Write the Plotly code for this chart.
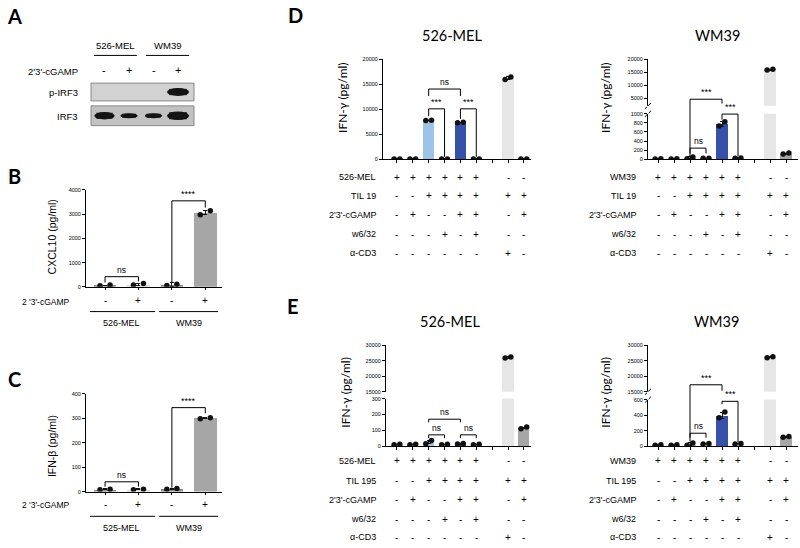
import plotly.graph_objects as go

W, H = 800, 548

# ======================= DATA =======================
# Panel A - western blot, relative band intensity per lane (0 = no band)
A_groups = ["526-MEL", "WM39"]
A_cgamp = ["-", "+", "-", "+"]
A_rows = ["p-IRF3", "IRF3"]
A_pIRF3 = [0.0, 0.0, 0.0, 1.0]
A_IRF3 = [0.8, 0.45, 0.45, 1.0]

# Panel B - CXCL10 (pg/ml)
B_cgamp = ["-", "+", "-", "+"]
B_groups = ["526-MEL", "WM39"]
B_mean = [60, 100, 100, 3060]
B_sem = [15, 30, 70, 90]
B_rep1 = [50, 80, 60, 2980]
B_rep2 = [75, 140, 110, 3140]

# Panel C - IFN-beta (pg/ml)
C_cgamp = ["-", "+", "-", "+"]
C_groups = ["525-MEL", "WM39"]
C_mean = [9, 9, 11, 300]
C_sem = [2, 2, 3, 3]
C_rep1 = [8, 8, 10, 298]
C_rep2 = [10, 10, 13, 302]

# Panels D/E - condition table (slot 7 is an empty column)
row_mel = ["+", "+", "+", "+", "+", "+", "", "-", "-"]
row_til = ["-", "-", "+", "+", "+", "+", "", "+", "+"]
row_cgamp = ["-", "+", "-", "-", "+", "+", "", "-", "+"]
row_w632 = ["-", "-", "-", "+", "-", "+", "", "-", "-"]
row_cd3 = ["-", "-", "-", "-", "-", "-", "", "+", "-"]

# D - IFN-gamma (pg/ml), TIL 19
D_mel_mean = [50, 50, 7800, 50, 7350, 50, None, 16200, 50]
D_mel_sem = [10, 10, 50, 10, 70, 10, None, 300, 10]
D_mel_rep1 = [40, 40, 7780, 40, 7300, 40, None, 15950, 40]
D_mel_rep2 = [60, 60, 7830, 60, 7420, 60, None, 16450, 60]

D_wm_mean = [10, 10, 30, 22, 775, 25, None, 16000, 125]
D_wm_sem = [2, 2, 20, 3, 50, 4, None, 200, 10]
D_wm_rep1 = [8, 8, 10, 20, 730, 22, None, 15850, 115]
D_wm_rep2 = [12, 12, 50, 24, 825, 28, None, 16200, 135]

# E - IFN-gamma (pg/ml), TIL 195
E_mel_mean = [10, 10, 25, 10, 15, 10, None, 26000, 115]
E_mel_sem = [2, 2, 10, 2, 2, 2, None, 200, 5]
E_mel_rep1 = [8, 8, 15, 8, 13, 8, None, 25850, 110]
E_mel_rep2 = [12, 12, 35, 12, 17, 12, None, 26200, 120]

E_wm_mean = [15, 15, 25, 30, 400, 30, None, 26100, 120]
E_wm_sem = [3, 3, 15, 3, 40, 3, None, 200, 6]
E_wm_rep1 = [12, 12, 10, 28, 365, 28, None, 25950, 115]
E_wm_rep2 = [18, 18, 40, 32, 440, 32, None, 26300, 125]

slots = list(range(9))
bar4 = list(range(4))

# ======================= STYLE =======================
ARIAL = "Liberation Sans, Arial, sans-serif"
CAL = "Lato, Carlito, Calibri, sans-serif"
LB = "#9dc3e6"
DB = "#3551a8"
LG = "#e6e6e6"
MG = "#a6a6a6"
SM = "#bdbdbd"
slot_colors = [SM, SM, LB, SM, DB, SM, "rgba(0,0,0,0)", LG, MG]
BC_colors = ["#8c8c8c", "#dcdcdc", "#8c8c8c", MG]


def px(x):
    return x / W


def py(y):
    return 1 - y / H


fig = go.Figure()
AX = {}


def yax(name, ypix_bottom, ypix_top, rng, tickvals, anchor):
    dom = [py(ypix_bottom), py(ypix_top)]
    AX[name] = (dom, rng)
    return dict(domain=dom, range=rng, tickvals=tickvals, tickformat="d",
                anchor=anchor, showline=True, linecolor="black", linewidth=1,
                ticks="outside", ticklen=3, tickwidth=1, tickcolor="black",
                tickfont=dict(size=5.5, family=ARIAL, color="black"),
                showgrid=False, zeroline=False, fixedrange=True)


def xax(xpix_left, xpix_right, rng, anchor, tickvals, ticklen=3):
    return dict(domain=[px(xpix_left), px(xpix_right)], range=rng, anchor=anchor,
                tickvals=tickvals, showticklabels=False, showline=True,
                linecolor="black", linewidth=1, ticks="outside", ticklen=ticklen,
                tickwidth=1, tickcolor="black", showgrid=False, zeroline=False,
                fixedrange=True)


def yp(name, v):
    (d0, d1), (r0, r1) = AX[name]
    return d0 + (v - r0) / (r1 - r0) * (d1 - d0)


def add_bars(xa, yas, x, mean, sem, r1, r2, colors, width=0.7, off=0.18):
    for ya in yas:
        fig.add_trace(go.Bar(x=x, y=mean, marker=dict(color=colors, line=dict(width=0)),
                             width=width, xaxis=xa, yaxis=ya,
                             error_y=dict(type="data", array=[s if s is not None else 0 for s in sem],
                                          color="#111111", thickness=1, width=2)))
        fig.add_trace(go.Scatter(x=[i - off for i in x], y=r1, mode="markers",
                                 marker=dict(size=5.5, color="#111111"), xaxis=xa, yaxis=ya))
        fig.add_trace(go.Scatter(x=[i + off for i in x], y=r2, mode="markers",
                                 marker=dict(size=5.5, color="#111111"), xaxis=xa, yaxis=ya))


layout = dict(width=W, height=H, margin=dict(l=0, r=0, t=0, b=0),
              paper_bgcolor="white", plot_bgcolor="white", showlegend=False,
              bargap=0)

# ---- axes ----
layout["xaxis"] = xax(86, 222, [-0.57, 3.5], "y", bar4, ticklen=2)
layout["yaxis"] = yax("y", 287, 189, [0, 4000], [0, 1000, 2000, 3000, 4000], "x")
layout["xaxis2"] = xax(86, 222, [-0.57, 3.5], "y2", bar4, ticklen=2)
layout["yaxis2"] = yax("y2", 494, 395, [0, 400], [0, 100, 200, 300, 400], "x2")

layout["xaxis3"] = xax(383, 531, [-0.88, 8.45], "y3", slots)
layout["yaxis3"] = yax("y3", 158, 57, [0, 20000], [0, 5000, 10000, 15000, 20000], "x3")

layout["xaxis4"] = xax(648, 798, [-0.625, 8.75], "y4", slots)
layout["yaxis4"] = yax("y4", 158, 112, [0, 1000], [0, 200, 400, 600, 800, 1000], "x4")
layout["yaxis5"] = yax("y5", 104, 57, [2000, 20000], [5000, 10000, 15000, 20000], "x4")

layout["xaxis6"] = xax(386, 531, [-0.69, 8.45], "y6", slots)
layout["yaxis6"] = yax("y6", 448, 400, [0, 300], [0, 100, 200, 300], "x6")
layout["yaxis7"] = yax("y7", 393, 346, [15000, 30000], [15000, 20000, 25000, 30000], "x6")

layout["xaxis8"] = xax(648, 798, [-0.625, 8.75], "y8", slots)
layout["yaxis8"] = yax("y8", 448, 401, [0, 600], [0, 200, 400, 600], "x8")
layout["yaxis9"] = yax("y9", 393, 346, [15000, 30000], [15000, 20000, 25000, 30000], "x8")

# blot axes (hidden)
layout["xaxis10"] = dict(domain=[px(91), px(194)], range=[-0.55, 3.65], visible=False,
                         anchor="y10", fixedrange=True)
layout["yaxis10"] = dict(domain=[py(99), py(81)], range=[0, 1], visible=False,
                         anchor="x10", fixedrange=True)
layout["yaxis11"] = dict(domain=[py(124), py(104)], range=[0, 1], visible=False,
                         anchor="x10", fixedrange=True)

# ---- bars ----
add_bars("x", ["y"], bar4, B_mean, B_sem, B_rep1, B_rep2, BC_colors, width=0.68, off=0.15)
add_bars("x2", ["y2"], bar4, C_mean, C_sem, C_rep1, C_rep2, BC_colors, width=0.68, off=0.15)
add_bars("x3", ["y3"], slots, D_mel_mean, D_mel_sem, D_mel_rep1, D_mel_rep2, slot_colors)
add_bars("x4", ["y4", "y5"], slots, D_wm_mean, D_wm_sem, D_wm_rep1, D_wm_rep2, slot_colors)
add_bars("x6", ["y6", "y7"], slots, E_mel_mean, E_mel_sem, E_mel_rep1, E_mel_rep2, slot_colors)
add_bars("x8", ["y8", "y9"], slots, E_wm_mean, E_wm_sem, E_wm_rep1, E_wm_rep2, slot_colors)

# dummy traces to create the blot subplots
for ya in ["y10", "y11"]:
    fig.add_trace(go.Scatter(x=[0], y=[0.5], mode="markers", marker=dict(opacity=0),
                             xaxis="x10", yaxis=ya, hoverinfo="skip"))

shapes = []
annotations = []


def line(xref, x0, x1, y0, y1, width=1, color="black", yref="paper"):
    shapes.append(dict(type="line", xref=xref, yref=yref, x0=x0, x1=x1, y0=y0, y1=y1,
                       line=dict(color=color, width=width)))


def text(x, y, s, size=9, xref="paper", yref="paper", xanchor="center", yanchor="middle",
         family=ARIAL, angle=0, color="black"):
    annotations.append(dict(x=x, y=y, xref=xref, yref=yref, text=s, showarrow=False,
                            xanchor=xanchor, yanchor=yanchor, textangle=angle,
                            font=dict(size=size, family=family, color=color)))


# ---- panel A blot ----
for ya, vals, bg in [("y10", A_pIRF3, "#d2d2d2"), ("y11", A_IRF3, "#c2c2c2")]:
    shapes.append(dict(type="rect", xref="x10 domain", yref=ya + " domain", x0=0, x1=1, y0=0, y1=1,
                       fillcolor=bg, line=dict(color="#8a8a8a", width=1), layer="below"))
    for i, I in enumerate(vals):
        if I <= 0:
            continue
        hw = 0.275 + 0.175 * I
        hh = 0.05 + 0.17 * I
        shapes.append(dict(type="circle", xref="x10", yref=ya, x0=i - hw, x1=i + hw,
                           y0=0.5 - hh, y1=0.5 + hh, fillcolor="#141414", line=dict(width=0)))
        shapes.append(dict(type="rect", xref="x10", yref=ya, x0=i - hw * 0.8, x1=i + hw * 0.8,
                           y0=0.5 - hh * 0.8, y1=0.5 + hh * 0.8, fillcolor="#141414",
                           line=dict(width=0)))
line("x10", -0.43, 1.32, py(53), py(53))
line("x10", 1.69, 3.45, py(53), py(53))
text(0.45, py(43), A_groups[0], size=9.5, xref="x10")
text(2.55, py(43), A_groups[1], size=9.5, xref="x10")
text(px(80), py(69), "2'3'-cGAMP", size=9.5, xanchor="right")
for i, s in enumerate(A_cgamp):
    text(i, py(68), s, size=11, xref="x10")
text(px(80), py(90), A_rows[0], size=9.5, xanchor="right")
text(px(80), py(115), A_rows[1], size=9.5, xanchor="right")

# ---- panel B/C labels ----
for xa, ycg, yline, ylab, groups, cg in [("x", 302, 312, 324, B_groups, B_cgamp),
                                         ("x2", 508, 519, 531, C_groups, C_cgamp)]:
    text(px(72), py(ycg), "2 '3'-cGAMP", size=8.5, xanchor="right")
    for i, s in enumerate(cg):
        text(i, py(ycg - 1), s, size=10, xref=xa)
    line(xa, -0.45, 1.5, py(yline), py(yline))
    line(xa, 1.62, 3.38, py(yline), py(yline))
    text(0.5, py(ylab), groups[0], size=9, xref=xa)
    text(2.5, py(ylab), groups[1], size=9, xref=xa)

text(px(52), py(237), "CXCL10 (pg/ml)", size=10.5, angle=-90)
text(px(52), py(448), "IFN-β (pg/ml)", size=10.5, angle=-90)

# ---- panel D/E condition tables ----
rows = [row_mel, row_til, row_cgamp, row_w632, row_cd3]
for xa, right, ys, labels in [
    ("x3", 378, [176, 195, 214, 234, 253], ["526-MEL", "TIL 19", "2'3'-cGAMP", "w6/32", "α-CD3"]),
    ("x4", 638, [176, 195, 214, 234, 253], ["WM39", "TIL 19", "2'3'-cGAMP", "w6/32", "α-CD3"]),
    ("x6", 378, [463, 483, 502, 522, 540], ["526-MEL", "TIL 195", "2'3'-cGAMP", "w6/32", "α-CD3"]),
    ("x8", 638, [463, 483, 502, 522, 540], ["WM39", "TIL 195", "2'3'-cGAMP", "w6/32", "α-CD3"]),
]:
    for lab, y, row in zip(labels, ys, rows):
        text(px(right), py(y), lab, size=9, xanchor="right")
        for i, s in enumerate(row):
            if s:
                text(i, py(y), s, size=10, xref=xa)

# y titles and panel titles
for xpix, ypix in [(343, 96), (606, 96), (346, 394), (606, 394)]:
    text(px(xpix), py(ypix), "IFN-γ (pg/ml)", size=12, family=CAL, angle=-90)
for xpix, ypix, s in [(452, 33, "526-MEL"), (717, 33, "WM39"), (450, 322, "526-MEL"), (716, 322, "WM39")]:
    text(px(xpix), py(ypix), s, size=14.5, family=CAL)
for xpix, ypix, s in [(14, 13, "A"), (14, 175, "B"), (14, 380, "C"), (295, 12, "D"), (293, 306, "E")]:
    text(px(xpix), py(ypix), "<b>" + s + "</b>", size=20, family=CAL)

# axis break marks
for ybot, ytop in [(112, 104), (401, 393)]:
    for yy in (ybot, ytop):
        line("paper", px(645), px(651), py(yy + 3), py(yy - 3))
    line("paper", px(648), px(648), py(ybot), py(ytop), color="white", width=2)

# ---- significance brackets ----
brackets = [
    ("x", 0, 1, (420, "y"), (180, "y"), (230, "y"), "ns"),
    ("x", 2, 3, (3550, "y"), (200, "y"), (3270, "y"), "****"),
    ("x2", 0, 1, (40, "y2"), (20, "y2"), (20, "y2"), "ns"),
    ("x2", 2, 3, (343, "y2"), (16, "y2"), (320, "y2"), "****"),
    ("x3", 2, 3, (10100, "y3"), (8600, "y3"), (500, "y3"), "***"),
    ("x3", 4, 5, (10100, "y3"), (8100, "y3"), (500, "y3"), "***"),
    ("x3", 2, 4, (14060, "y3"), (12670, "y3"), (12670, "y3"), "ns"),
    ("x4", 2, 3, (245, "y4"), (130, "y4"), (130, "y4"), "ns"),
    ("x4", 2, 4, (4570, "y5"), (65, "y4"), (2880, "y5"), "***"),
    ("x4", 4, 5, (993, "y4"), (870, "y4"), (65, "y4"), "***"),
    ("x6", 2, 4, (170, "y6"), (150, "y6"), (150, "y6"), "ns"),
    ("x6", 2, 3, (71, "y6"), (50, "y6"), (50, "y6"), "ns"),
    ("x6", 4, 5, (71, "y6"), (50, "y6"), (50, "y6"), "ns"),
    ("x8", 2, 3, (166, "y8"), (110, "y8"), (110, "y8"), "ns"),
    ("x8", 2, 4, (17230, "y9"), (60, "y8"), (15300, "y9"), "***"),
    ("x8", 4, 5, (578, "y8"), (540, "y8"), (50, "y8"), "***"),
]
for xa, xl, xr, top, le, re_, lab in brackets:
    ytop = yp(top[1], top[0])
    line(xa, xl, xr, ytop, ytop)
    line(xa, xl, xl, ytop, yp(le[1], le[0]))
    line(xa, xr, xr, ytop, yp(re_[1], re_[0]))
    text((xl + xr) / 2, ytop, lab, size=8.5 if lab == "ns" else 9, xref=xa, yanchor="bottom")

layout["shapes"] = shapes
layout["annotations"] = annotations
fig.update_layout(**layout)
fig.write_html("out.html", config={"displayModeBar": False},
               post_script="document.body.style.margin='0px';document.body.style.overflow='hidden';")
